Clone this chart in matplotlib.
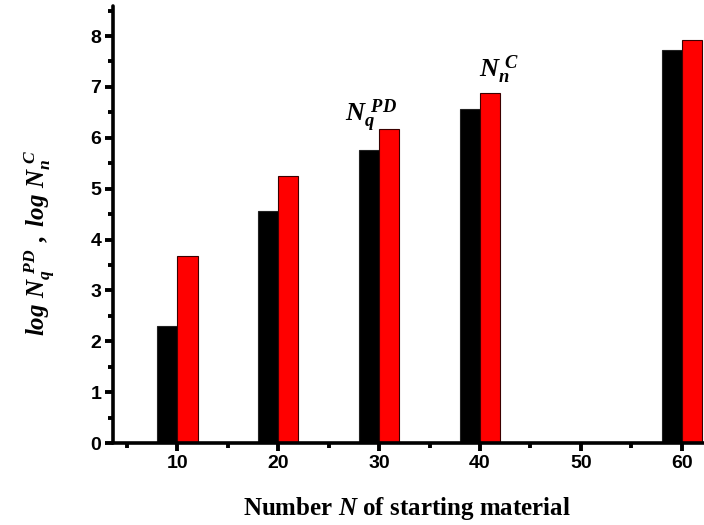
import matplotlib
matplotlib.use("Agg")
import matplotlib.pyplot as plt
import numpy as np

plt.rcParams['mathtext.fontset'] = 'custom'
plt.rcParams['mathtext.rm'] = 'Liberation Serif:bold'
plt.rcParams['mathtext.it'] = 'Liberation Serif:italic:bold'
plt.rcParams['mathtext.bf'] = 'Liberation Serif:italic:bold'

# Number of starting material
n_values = [10, 20, 30, 40, 60]
log_nq_pd = [2.30, 4.57, 5.76, 6.56, 7.73]
log_nn_c = [3.67, 5.24, 6.17, 6.88, 7.93]
x_ticks = [10, 20, 30, 40, 50, 60]

fig = plt.figure(figsize=(7.04, 5.25), dpi=100)
ax = fig.add_axes([113 / 704, 1 - 443 / 525, 1 - 113 / 704, (443 - 6) / 525])

bar_w = 2.0
x = np.array(n_values, dtype=float)
ax.bar(x - bar_w, log_nq_pd, width=bar_w, align='edge', color='black',
       edgecolor='#222222', linewidth=0.8, zorder=2)
ax.bar(x, log_nn_c, width=bar_w, align='edge', color='#ff0000',
       edgecolor='#3a0000', linewidth=0.8, zorder=2)

ax.set_xlim(3.62, 62.2)
ax.set_ylim(0, 8.59)

for side in ('top', 'right'):
    ax.spines[side].set_visible(False)
for side in ('left', 'bottom'):
    ax.spines[side].set_linewidth(2.6)
    ax.spines[side].set_capstyle('round')

ax.set_xticks(x_ticks)
ax.set_xticks(np.arange(5, 62, 5), minor=True)
ax.set_yticks(np.arange(0, 9, 1))
ax.set_yticks(np.arange(0.5, 8.6, 1.0), minor=True)
ax.tick_params(which='major', direction='out', length=5.5, width=2.8, pad=3)
ax.tick_params(which='minor', direction='out', length=3.5, width=2.8)

for lab in ax.get_xticklabels() + ax.get_yticklabels():
    lab.set_fontfamily('Liberation Sans')
    lab.set_fontweight('bold')
    lab.set_fontsize(14)

ax.set_xlabel(r'Number $\mathit{N}$ of starting material',
              fontfamily='Liberation Serif', fontweight='bold', fontsize=18)
ax.xaxis.set_label_coords(0.497, -0.118)
ax.set_ylabel(r'$log\ N_{q}^{\ PD}\ ,\ log\ N_{n}^{\ C}$', fontsize=18)
ax.yaxis.set_label_coords(-0.095, 0.458)

ax.text(26.6, 6.44, r'$N_{q}^{\ PD}$', fontsize=19, ha='left', va='center')
ax.text(39.9, 7.33, r'$N_{n}^{\ C}$', fontsize=19, ha='left', va='center')

fig.savefig('out.png', dpi=100)
